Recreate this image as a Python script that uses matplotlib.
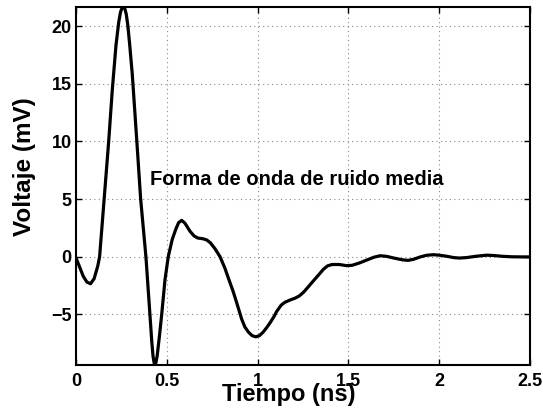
import matplotlib
matplotlib.use("Agg")
import matplotlib.pyplot as plt

t_ns = [0.0, 0.02, 0.04, 0.06, 0.08, 0.10, 0.12, 0.13, 0.155, 0.18, 0.20, 0.22,
        0.235, 0.245, 0.253, 0.26, 0.265, 0.27, 0.277, 0.285, 0.295, 0.31, 0.335,
        0.356, 0.385, 0.407, 0.417, 0.424, 0.43, 0.435, 0.44, 0.447, 0.46, 0.472,
        0.49, 0.508, 0.53, 0.55, 0.565, 0.582, 0.60,
        0.628, 0.65, 0.67, 0.70, 0.72, 0.74, 0.765, 0.793, 0.82, 0.84, 0.865,
        0.885, 0.912, 0.93, 0.95, 0.97, 0.99, 1.01, 1.03, 1.05, 1.07, 1.09,
        1.105, 1.13, 1.151, 1.18, 1.206, 1.23, 1.252, 1.28, 1.307, 1.335, 1.362,
        1.385, 1.41, 1.45, 1.49, 1.52, 1.56, 1.60, 1.64, 1.674, 1.71, 1.75,
        1.80, 1.83, 1.86, 1.894, 1.93, 1.968, 2.0, 2.04, 2.08, 2.11, 2.15, 2.2,
        2.262, 2.3, 2.35, 2.4, 2.45, 2.5]
voltage_mv = [-0.1, -0.9, -1.7, -2.2, -2.35, -1.9, -0.8, 0.0, 5.0, 10.0, 14.5, 18.3,
              20.3, 21.2, 21.55, 21.65, 21.6, 21.45, 21.0, 20.1, 18.5, 15.8, 10.0,
              5.0, 0.0, -5.0, -7.3, -8.6, -9.2, -9.35, -9.2, -8.6, -6.8, -5.0,
              -2.0, 0.0, 1.5, 2.4, 2.95, 3.15, 2.9,
              2.2, 1.8, 1.62, 1.55, 1.45, 1.2, 0.7, 0.0, -1.0, -1.9, -3.0,
              -4.0, -5.4, -6.1, -6.55, -6.85, -6.95, -6.85, -6.55, -6.15, -5.7, -5.2,
              -4.75, -4.2, -3.95, -3.75, -3.6, -3.4, -3.1, -2.6, -2.1, -1.6, -1.1,
              -0.8, -0.68, -0.68, -0.78, -0.75, -0.55, -0.3, -0.05, 0.08, 0.03, -0.12,
              -0.28, -0.32, -0.22, -0.03, 0.12, 0.17, 0.13, 0.04, -0.08, -0.12, -0.08, 0.03,
              0.13, 0.1, 0.03, -0.01, -0.02, -0.02]

x_ticks = [0, 0.5, 1, 1.5, 2, 2.5]
x_tick_labels = ["0", "0.5", "1", "1.5", "2", "2.5"]
y_ticks = [-5, 0, 5, 10, 15, 20]
y_tick_labels = ["\u22125", "0", "5", "10", "15", "20"]

plt.rcParams['font.family'] = ['Liberation Sans', 'DejaVu Sans']
plt.rcParams['font.weight'] = 'bold'

fig = plt.figure(figsize=(5.43, 4.09), dpi=100)
ax = fig.add_axes([76/543, 1 - 364.5/409, (530-76)/543, (364.5-7)/409])

ax.plot(t_ns, voltage_mv, color='black', linewidth=2.3,
        solid_joinstyle='round', solid_capstyle='round')
ax.set_xlim(0, 2.5)
ax.set_ylim(-9.35, 21.65)
ax.set_xticks(x_ticks)
ax.set_xticklabels(x_tick_labels, fontsize=13, fontweight='bold')
ax.set_yticks(y_ticks)
ax.set_yticklabels(y_tick_labels, fontsize=13, fontweight='bold')
ax.tick_params(direction='in', length=4, width=1, top=True, right=True)
ax.tick_params(axis='x', pad=6)
ax.tick_params(axis='y', pad=3)
ax.grid(True, linestyle=(0, (1, 3)), color='#888888', linewidth=0.8)
for s in ax.spines.values():
    s.set_linewidth(1.5)

ax.text(0.41, 6.25, "Forma de onda de ruido media", fontsize=14.5,
        fontweight='bold', va='baseline')

fig.text(289/543, 1 - 395/409, "Tiempo (ns)", fontsize=17, fontweight='bold',
         ha='center', va='center')
fig.text(25/543, 1 - 167/409, "Voltaje (mV)", fontsize=17.5, fontweight='bold',
         ha='center', va='center', rotation=90)

fig.savefig("out.png", dpi=100)
